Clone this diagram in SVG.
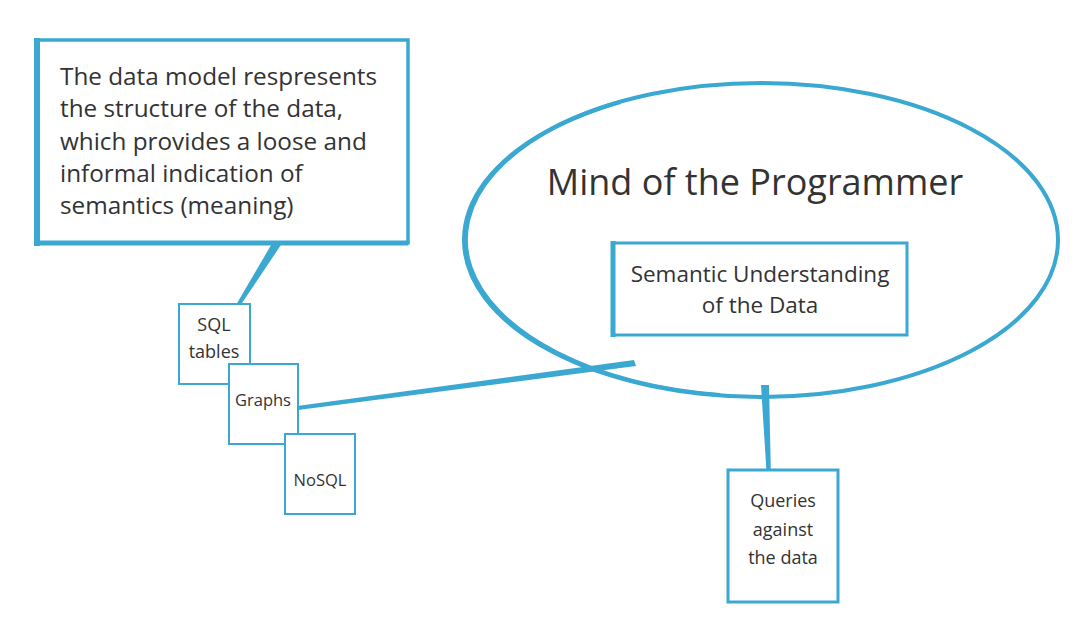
<svg xmlns="http://www.w3.org/2000/svg" width="1080" height="626" viewBox="0 0 1080 626">
<style>
.box{fill:#fff;stroke:#3aa8d1;}
.t{font-family:"Open Sans","Liberation Sans",sans-serif;fill:#333;}
.c{fill:#3aa8d1;}
</style>
<rect width="1080" height="626" fill="#fff"/>
<g id="mind">
<ellipse cx="761" cy="240" rx="297" ry="157" fill="none" stroke="#3aa8d1" stroke-width="4"/>
<path d="M 620 102 A 297 157 0 0 0 720 395" fill="none" stroke="#3aa8d1" stroke-width="4"/>
<text class="t" x="755" y="195" font-size="36" text-anchor="middle">Mind of the Programmer</text>
</g>
<g id="connectors">
<polygon class="c" points="284,223 293,227 240,306 236,305"/>
<polygon class="c" points="298,410 297,406 634,360 636,366"/>
<polygon class="c" points="761,385 769,385 771,480 767,480"/>
</g>
<g id="datamodel">
<rect class="box" x="37" y="40" width="371" height="203" stroke-width="3.5"/>
<line x1="37" y1="38" x2="37" y2="246" stroke="#3aa8d1" stroke-width="6"/>
<line x1="35" y1="243" x2="408" y2="243" stroke="#3aa8d1" stroke-width="5"/>
<text class="t" font-size="24.3" x="60">
<tspan x="60" y="85">The data model respresents</tspan>
<tspan x="60" y="117">the structure of the data,</tspan>
<tspan x="60" y="150">which provides a loose and</tspan>
<tspan x="60" y="182">informal indication of</tspan>
<tspan x="60" y="214">semantics (meaning)</tspan>
</text>
</g>
<g id="sql">
<rect class="box" x="179" y="304" width="71" height="80" stroke-width="2"/>
<text class="t" font-size="18" text-anchor="middle"><tspan x="214" y="331">SQL</tspan><tspan x="214" y="358">tables</tspan></text>
</g>
<g id="graphs">
<rect class="box" x="229" y="364" width="69" height="80" stroke-width="2"/>
<text class="t" font-size="16.5" x="263" y="406" text-anchor="middle">Graphs</text>
</g>
<g id="nosql">
<rect class="box" x="285" y="434" width="70" height="80" stroke-width="2"/>
<text class="t" font-size="16.5" x="320" y="486" text-anchor="middle">NoSQL</text>
</g>
<g id="semantic">
<rect class="box" x="613" y="243" width="294" height="92" stroke-width="3"/>
<line x1="613" y1="241" x2="613" y2="337" stroke="#3aa8d1" stroke-width="5"/>
<text class="t" font-size="22.5" text-anchor="middle"><tspan x="760" y="282">Semantic Understanding</tspan><tspan x="760" y="313">of the Data</tspan></text>
</g>
<g id="queries">
<rect class="box" x="728" y="470" width="110" height="132" stroke-width="3"/>
<text class="t" font-size="18" text-anchor="middle"><tspan x="783" y="507">Queries</tspan><tspan x="783" y="536">against</tspan><tspan x="783" y="564">the data</tspan></text>
</g>
</svg>
